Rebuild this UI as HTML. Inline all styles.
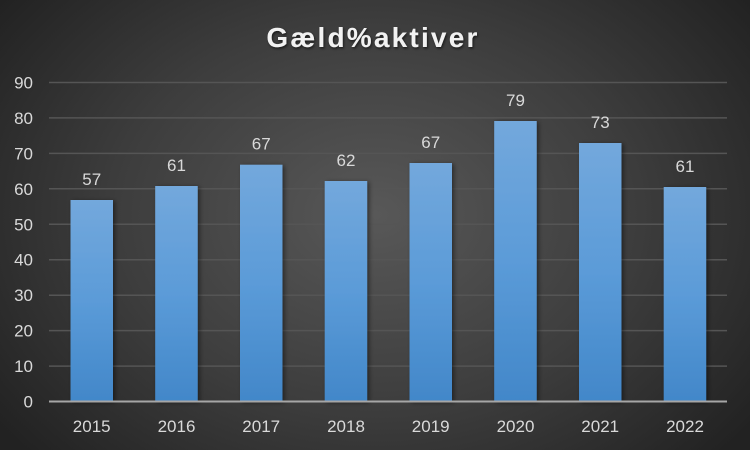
<!DOCTYPE html>
<html><head><meta charset="utf-8">
<style>
html,body{margin:0;padding:0;width:750px;height:450px;overflow:hidden;background:#2b2b2b;}
svg{display:block;font-family:"Liberation Sans","DejaVu Sans",sans-serif;}
</style></head>
<body>
<svg width="750" height="450" viewBox="0 0 750 450" xmlns="http://www.w3.org/2000/svg">
<defs>
<radialGradient id="bg" cx="375" cy="215" r="470" gradientUnits="userSpaceOnUse" gradientTransform="translate(375 215) scale(1 0.75) translate(-375 -215)">
<stop offset="0" stop-color="#585858"/>
<stop offset="0.55" stop-color="#3d3d3d"/>
<stop offset="1" stop-color="#222222"/>
</radialGradient>
<linearGradient id="bar" x1="0" y1="0" x2="0" y2="1">
<stop offset="0" stop-color="#73a8dc"/>
<stop offset="0.5" stop-color="#5b9bd8"/>
<stop offset="1" stop-color="#4287c9"/>
</linearGradient>
<filter id="sh" x="-30%" y="-10%" width="160%" height="120%">
<feDropShadow dx="2" dy="1" stdDeviation="2.5" flood-color="#000" flood-opacity="0.45"/>
</filter>
<filter id="tsh" x="-10%" y="-30%" width="120%" height="160%">
<feDropShadow dx="1" dy="1.5" stdDeviation="1.2" flood-color="#000" flood-opacity="0.6"/>
</filter>
</defs>
<rect width="750" height="450" fill="url(#bg)"/>

<text x="373" y="47" text-anchor="middle" font-size="28" font-weight="bold" fill="#f2f2f2" letter-spacing="2.2" filter="url(#tsh)">Gæld%aktiver</text>

<g stroke="#555555" stroke-width="1.5">
<line x1="49" x2="727" y1="82.5" y2="82.5"/>
<line x1="49" x2="727" y1="117.9" y2="117.9"/>
<line x1="49" x2="727" y1="153.4" y2="153.4"/>
<line x1="49" x2="727" y1="188.8" y2="188.8"/>
<line x1="49" x2="727" y1="224.3" y2="224.3"/>
<line x1="49" x2="727" y1="259.7" y2="259.7"/>
<line x1="49" x2="727" y1="295.2" y2="295.2"/>
<line x1="49" x2="727" y1="330.6" y2="330.6"/>
<line x1="49" x2="727" y1="366.1" y2="366.1"/>
</g>

<g fill="#d9d9d9" font-size="17" text-anchor="end">
<text x="33" y="88.5">90</text>
<text x="33" y="123.9">80</text>
<text x="33" y="159.4">70</text>
<text x="33" y="194.8">60</text>
<text x="33" y="230.3">50</text>
<text x="33" y="265.7">40</text>
<text x="33" y="301.2">30</text>
<text x="33" y="336.6">20</text>
<text x="33" y="372.1">10</text>
<text x="33" y="407.5">0</text>
</g>

<g fill="url(#bar)" filter="url(#sh)">
<rect x="70.5" y="200" width="42.5" height="201.5"/>
<rect x="155.2" y="186" width="42.5" height="215.5"/>
<rect x="240" y="164.7" width="42.5" height="236.8"/>
<rect x="324.7" y="181" width="42.5" height="220.5"/>
<rect x="409.5" y="163" width="42.5" height="238.5"/>
<rect x="494.2" y="121" width="42.5" height="280.5"/>
<rect x="579" y="143" width="42.5" height="258.5"/>
<rect x="663.7" y="187" width="42.5" height="214.5"/>
</g>

<line x1="49" x2="727" y1="401.5" y2="401.5" stroke="#a6a6a6" stroke-width="2"/>

<g fill="#d9d9d9" font-size="17" text-anchor="middle">
<text x="91.7" y="185">57</text>
<text x="176.5" y="171">61</text>
<text x="261.2" y="149.7">67</text>
<text x="346" y="166">62</text>
<text x="430.7" y="148">67</text>
<text x="515.5" y="106">79</text>
<text x="600.2" y="128">73</text>
<text x="685" y="172">61</text>
</g>

<g fill="#d9d9d9" font-size="17" text-anchor="middle">
<text x="91.7" y="432">2015</text>
<text x="176.5" y="432">2016</text>
<text x="261.2" y="432">2017</text>
<text x="346" y="432">2018</text>
<text x="430.7" y="432">2019</text>
<text x="515.5" y="432">2020</text>
<text x="600.2" y="432">2021</text>
<text x="685" y="432">2022</text>
</g>
</svg>
</body></html>
